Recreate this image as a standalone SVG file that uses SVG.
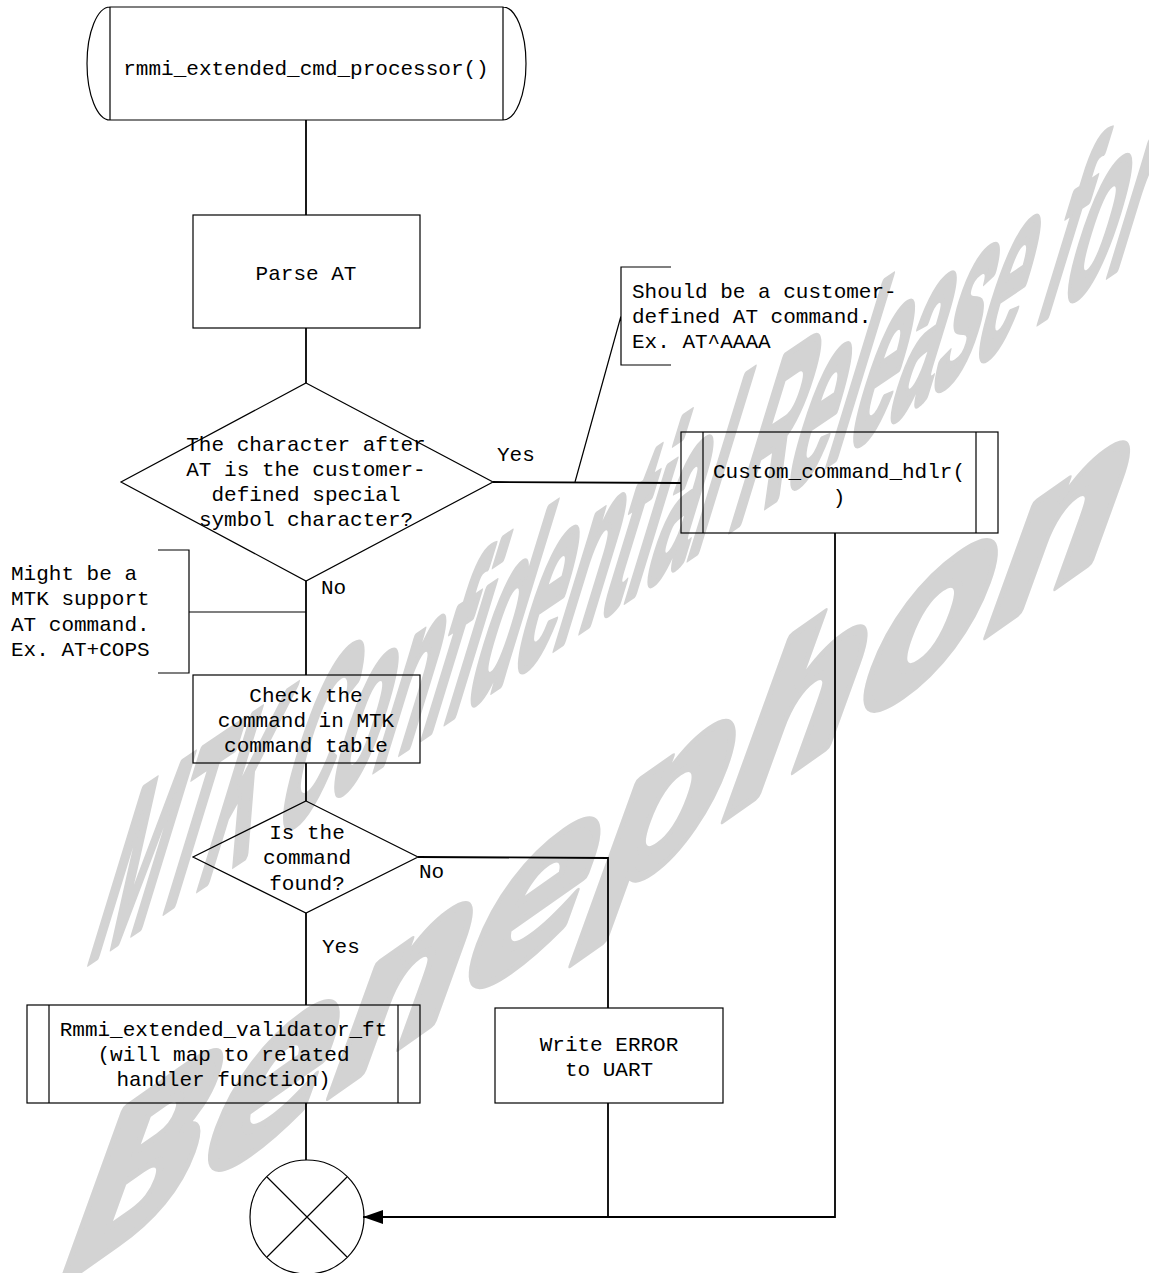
<svg xmlns="http://www.w3.org/2000/svg" width="1149" height="1273" viewBox="0 0 1149 1273">
<style>
.wm{fill:#d3d3d3;stroke:#d3d3d3;stroke-linejoin:round;font-weight:bold}
.s{fill:none;stroke:#000;stroke-width:1.2}
.c{fill:none;stroke:#000;stroke-width:1.8}
.t{font-family:"Liberation Mono","Courier New",monospace;font-size:21px;fill:#000}
.m{text-anchor:middle}
</style>
<defs>
<marker id="ah" viewBox="0 0 20 14" refX="20" refY="7" markerWidth="20" markerHeight="14" markerUnits="userSpaceOnUse" orient="auto">
<path d="M0,0 L20,7 L0,14 Z" fill="#000"/>
</marker>
</defs>
<rect width="1149" height="1273" fill="#fff"/>
<g id="watermark">
<text class="wm" stroke-width="3" font-family="Liberation Sans, Arial, sans-serif" font-size="91" transform="matrix(0.829 -0.559 -0.85 2.77 84 966)">MTK Confidential Release for</text>
<text class="wm" stroke-width="9" font-family="DejaVu Sans, sans-serif" font-size="229" transform="matrix(0.819 -0.574 -0.38 1.05 44 1296)">Benephon</text>
</g>
<g id="connectors">
<path class="c" d="M306,120 V215"/>
<path class="c" d="M306,328 V383"/>
<path class="c" d="M493,482 L681,483"/>
<path class="c" d="M306,581 V675"/>
<path class="c" d="M306,763 V801"/>
<path class="c" d="M418,857 L608,858 V1008"/>
<path class="c" d="M306,913 V1005"/>
<path class="c" d="M306,1103 V1160"/>
<path class="c" d="M608,1103 V1217"/>
<path class="c" d="M835,533 V1217 H363" marker-end="url(#ah)"/>
<text class="t" x="497" y="461">Yes</text>
<text class="t" x="321" y="594">No</text>
<text class="t" x="419" y="878">No</text>
<text class="t" x="322" y="953">Yes</text>
</g>
<g id="start">
<path class="s" d="M110,7 H503 V120 H110 Z M110,7 A23,56.5 0 0 0 110,120 M503,7 A23,56.5 0 0 1 503,120"/>
<text class="t m" x="306" y="75">rmmi_extended_cmd_processor()</text>
</g>
<g id="parse">
<rect class="s" x="193" y="215" width="227" height="113"/>
<text class="t m" x="306" y="280">Parse AT</text>
</g>
<g id="decision1">
<path class="s" d="M306,383 L493,482 L306,581 L121,482 Z"/>
<text class="t m" x="306" y="451">The character after</text>
<text class="t m" x="306" y="476">AT is the customer-</text>
<text class="t m" x="306" y="501">defined special</text>
<text class="t m" x="306" y="526">symbol character?</text>
</g>
<g id="note1">
<path class="s" d="M671,267 H621 V365 H671 M621,316 L575,482"/>
<text class="t" x="632" y="298">Should be a customer-</text>
<text class="t" x="632" y="323">defined AT command.</text>
<text class="t" x="632" y="348">Ex. AT^AAAA</text>
</g>
<g id="custom">
<rect class="s" x="681" y="432" width="317" height="101"/>
<path class="s" d="M703,432 V533 M976,432 V533"/>
<text class="t m" x="839" y="478">Custom_command_hdlr(</text>
<text class="t m" x="839" y="504">)</text>
</g>
<g id="note2">
<path class="s" d="M158,550 H189 V673 H158 M189,612 H306"/>
<text class="t" x="11" y="580">Might be a</text>
<text class="t" x="11" y="605">MTK support</text>
<text class="t" x="11" y="631">AT command.</text>
<text class="t" x="11" y="656">Ex. AT+COPS</text>
</g>
<g id="check">
<rect class="s" x="193" y="675" width="227" height="88"/>
<text class="t m" x="306" y="702">Check the</text>
<text class="t m" x="306" y="727">command in MTK</text>
<text class="t m" x="306" y="752">command table</text>
</g>
<g id="decision2">
<path class="s" d="M306,801 L418,857 L306,913 L193,857 Z"/>
<text class="t m" x="307" y="839">Is the</text>
<text class="t m" x="307" y="864">command</text>
<text class="t m" x="307" y="890">found?</text>
</g>
<g id="validator">
<rect class="s" x="27" y="1005" width="393" height="98"/>
<path class="s" d="M49,1005 V1103 M398,1005 V1103"/>
<text class="t m" x="223.5" y="1036">Rmmi_extended_validator_ft</text>
<text class="t m" x="223.5" y="1061">(will map to related</text>
<text class="t m" x="223.5" y="1086">handler function)</text>
</g>
<g id="error">
<rect class="s" x="495" y="1008" width="228" height="95"/>
<text class="t m" x="609" y="1051">Write ERROR</text>
<text class="t m" x="609" y="1076">to UART</text>
</g>
<g id="end">
<circle class="s" cx="307" cy="1217" r="57"/>
<path class="s" d="M267,1177 L347,1257 M347,1177 L267,1257"/>
</g>
</svg>
